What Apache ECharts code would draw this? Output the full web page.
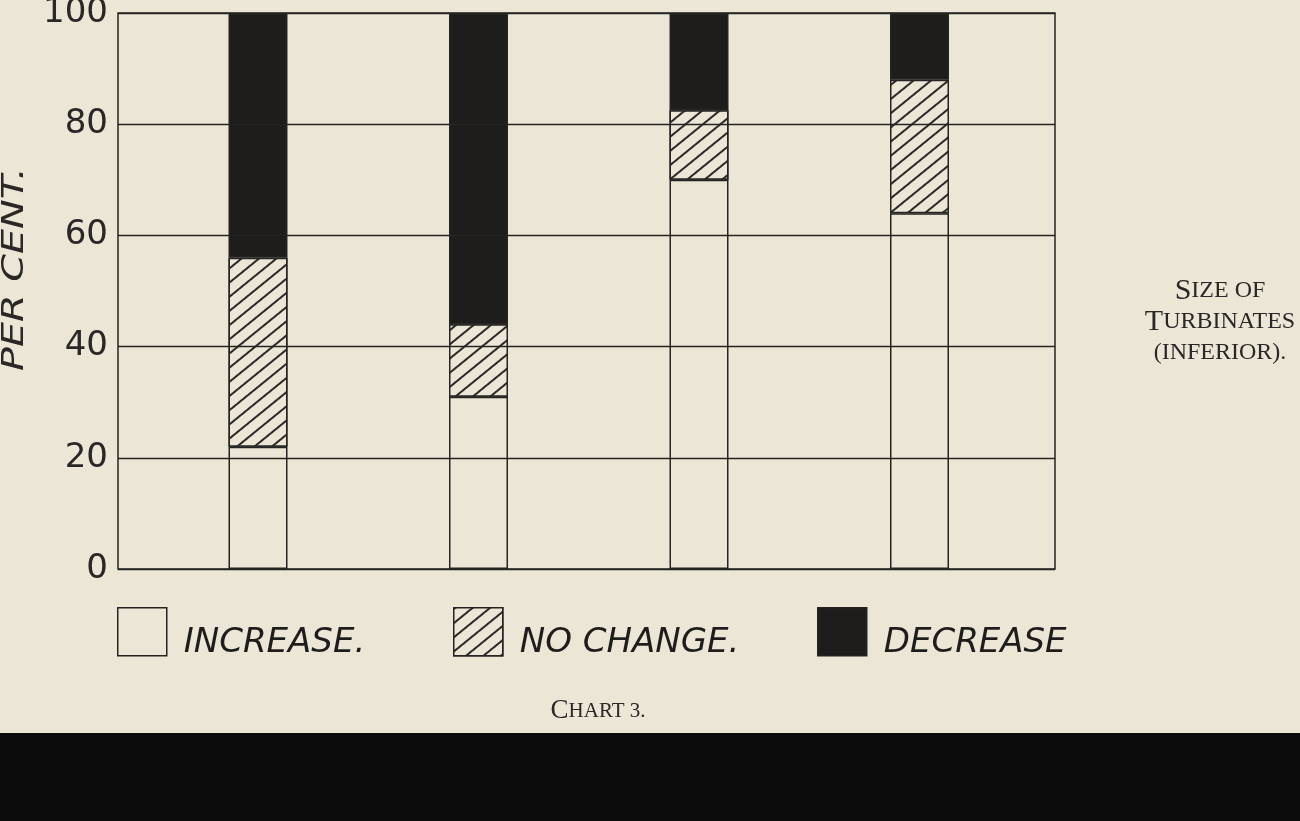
<!DOCTYPE html>
<html>
<head>
<meta charset="utf-8">
<script src="https://cdn.jsdelivr.net/npm/echarts@6/dist/echarts.min.js"></script>
<style>
html,body{margin:0;padding:0;background:#ece6d7;}
#chart{width:1300px;height:821px;}
</style>
</head>
<body>
<div id="chart"></div>
<script>
// Columns of the chart (no printed category labels)
const categories = ['1', '2', '3', '4'];
// Per cent values (stacked from bottom)
const increase = [22, 31, 70, 64];
const noChange = [34, 13, 12.5, 24];
const decrease = [44, 56, 17.5, 12];
const yTicks = [0, 20, 40, 60, 80, 100];
const seriesNames = ['INCREASE.', 'NO CHANGE.', 'DECREASE'];

const INK = '#262422';
const PAPER = '#ece6d7';
const hatch = {
  symbol: 'rect', symbolSize: 1,
  dashArrayX: [1, 0], dashArrayY: [1.5, 9],
  rotation: -Math.PI / 4.6,
  color: '#2b2927', backgroundColor: PAPER
};

const chart = echarts.init(document.getElementById('chart'), null, {renderer: 'canvas'});
const baseItem = {borderColor: INK, borderWidth: 1.5};
const yMin = yTicks[0], yMax = yTicks[yTicks.length - 1];

function mkLegend(name, left) {
  return {
    data: [name], left: left, top: 607, itemWidth: 49, itemHeight: 48,
    padding: 0, selectedMode: false, icon: 'rect',
    itemStyle: {borderWidth: 1.5, borderColor: INK},
    formatter: n => '{t|' + n + '}',
    textStyle: {
      rich: {t: {fontFamily: 'DejaVu Sans', fontStyle: 'italic', fontSize: 34,
                 color: '#1e1d1b', padding: [22, 0, 0, 12]}}
    }
  };
}

chart.setOption({
  backgroundColor: PAPER,
  animation: false,
  grid: [
    {left: 118, top: 13, right: 245, bottom: 252, show: true, outerBoundsMode: 'none',
     borderColor: INK, borderWidth: 1.5, backgroundColor: 'transparent', z: 5},
    {left: 147.75, top: 13, right: 270.25, bottom: 252, show: false, outerBoundsMode: 'none'}
  ],
  xAxis: [
    {gridIndex: 0, type: 'value', min: 0, max: 1, show: false},
    {gridIndex: 1, type: 'category', data: categories, show: false}
  ],
  yAxis: [
    {gridIndex: 0, type: 'value', min: yMin, max: yMax, interval: 20, z: 5,
     axisLine: {show: false}, axisTick: {show: false},
     axisLabel: {fontFamily: 'DejaVu Sans', fontSize: 34, color: '#2a2826', margin: 10},
     splitLine: {show: true, lineStyle: {color: INK, width: 1.3}}},
    {gridIndex: 1, type: 'value', min: yMin, max: yMax, show: false}
  ],
  legend: [mkLegend(seriesNames[0], 117), mkLegend(seriesNames[1], 453), mkLegend(seriesNames[2], 817)],
  series: [
    {name: seriesNames[0], type: 'bar', stack: 'a', barWidth: 59, xAxisIndex: 1, yAxisIndex: 1, z: 2,
     data: increase, itemStyle: Object.assign({color: PAPER}, baseItem)},
    {name: seriesNames[1], type: 'bar', stack: 'a', barWidth: 59, xAxisIndex: 1, yAxisIndex: 1, z: 2,
     data: noChange, itemStyle: Object.assign({color: PAPER, decal: hatch}, baseItem)},
    {name: seriesNames[2], type: 'bar', stack: 'a', barWidth: 59, xAxisIndex: 1, yAxisIndex: 1, z: 2,
     data: decrease, itemStyle: Object.assign({color: '#1f1d1b'}, baseItem)}
  ],
  graphic: [
    {type: 'text', x: 15, y: 269, rotation: Math.PI / 2, scaleX: 1.28,
     style: {text: 'PER CENT.', font: 'italic 31px "DejaVu Sans"', fill: '#2a2826',
             textAlign: 'center', textVerticalAlign: 'middle'}},
    {type: 'text', x: 1220, y: 322,
     style: {
       text: '{b|S}{s|IZE OF}\n{b|T}{s|URBINATES}\n{s|(INFERIOR).}',
       textAlign: 'center', textVerticalAlign: 'middle', fill: '#2a2826',
       rich: {
         b: {fontFamily: 'Liberation Serif', fontSize: 30, lineHeight: 31, fill: '#2a2826'},
         s: {fontFamily: 'Liberation Serif', fontSize: 24, lineHeight: 31, fill: '#2a2826'}
       }
     }},
    {type: 'text', x: 598, y: 711,
     style: {
       text: '{b|C}{s|HART 3.}',
       textAlign: 'center', textVerticalAlign: 'middle', fill: '#2a2826',
       rich: {
         b: {fontFamily: 'Liberation Serif', fontSize: 27, fill: '#2a2826'},
         s: {fontFamily: 'Liberation Serif', fontSize: 21, fill: '#2a2826'}
       }
     }},
    {type: 'rect', shape: {x: 0, y: 733, width: 1300, height: 88},
     style: {fill: '#0c0c0c'}, silent: true}
  ]
});
</script>
</body>
</html>
